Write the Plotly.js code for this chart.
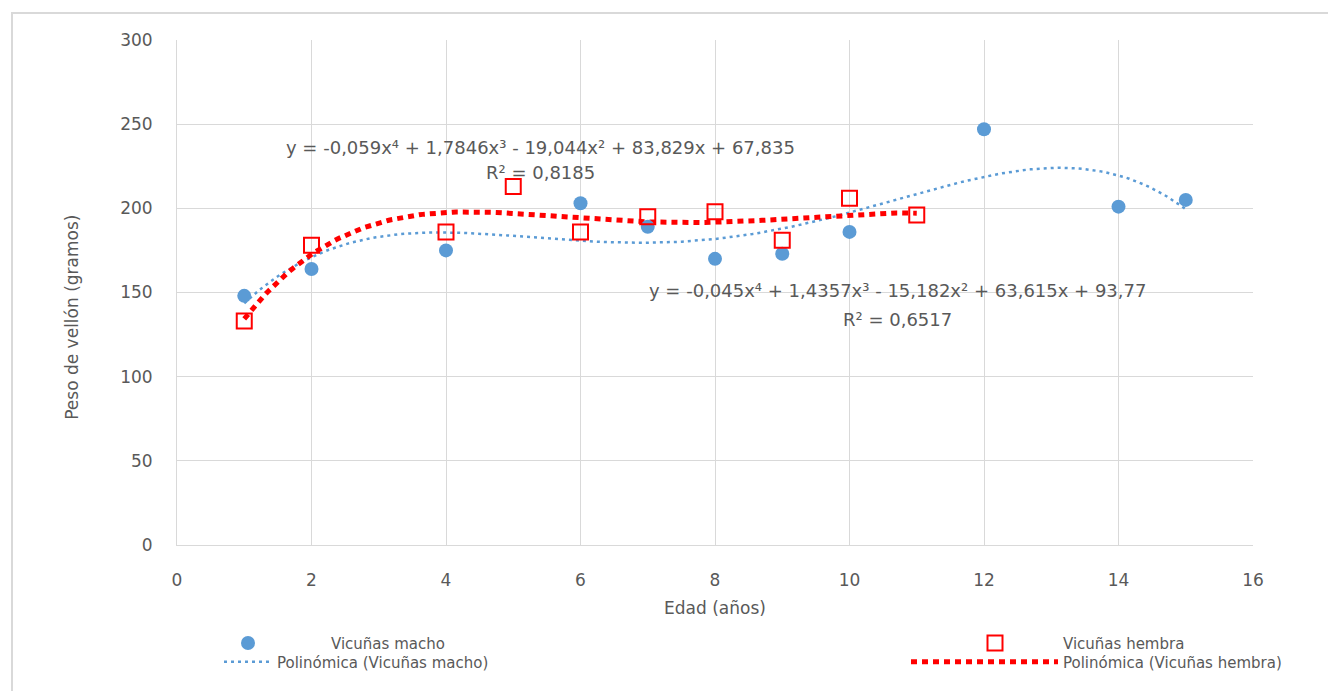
<!DOCTYPE html>
<html>
<head>
<meta charset="utf-8">
<script src="https://cdn.plot.ly/plotly-3.0.1.min.js"></script>
<style>
html,body{margin:0;padding:0;background:#fff;}
#frame{position:absolute;left:11px;top:12px;width:1340px;height:700px;border-left:2px solid #d9d9d9;border-top:2px solid #d9d9d9;pointer-events:none;z-index:5;}
#chart{position:absolute;left:0;top:0;width:1328px;height:691px;}
</style>
</head>
<body>
<div id="chart"></div>
<div id="frame"></div>
<script>
// Data
const machoAge = [1, 2, 4, 6, 7, 8, 9, 10, 12, 14, 15];
const machoWeight = [148, 164, 175, 203, 189, 170, 173, 186, 247, 201, 205];
const hembraAge = [1, 2, 4, 5, 6, 7, 8, 9, 10, 11];
const hembraWeight = [133, 178, 186, 213, 186, 195, 198, 181, 206, 196];

// Trendline coefficients as printed on the chart (x^4, x^3, x^2, x, 1)
const machoCoef = [-0.045, 1.4357, -15.182, 63.615, 93.77];
const hembraCoef = [-0.059, 1.7846, -19.044, 83.829, 67.835];
const machoEq = 'y = -0,045x⁴ + 1,4357x³ - 15,182x² + 63,615x + 93,77';
const machoR2 = 'R² = 0,6517';
const hembraEq = 'y = -0,059x⁴ + 1,7846x³ - 19,044x² + 83,829x + 67,835';
const hembraR2 = 'R² = 0,8185';

const xTicks = [0, 2, 4, 6, 8, 10, 12, 14, 16];
const yTicks = [0, 50, 100, 150, 200, 250, 300];

function trend(coef, x0, x1, n) {
  const xs = [], ys = [];
  for (let i = 0; i <= n; i++) {
    const x = x0 + (x1 - x0) * i / n;
    let y = 0;
    for (let k = 0; k < coef.length; k++) y = y * x + coef[k];
    xs.push(x); ys.push(y);
  }
  return {xs, ys};
}
const tm = trend(machoCoef, machoAge[0], machoAge[machoAge.length - 1], 200);
const th = trend(hembraCoef, hembraAge[0], hembraAge[hembraAge.length - 1], 200);

const blue = '#5b9bd5', red = '#ff0000', gray = '#595959';
const FONT = 'DejaVu Sans, sans-serif';

const traces = [
  {x: tm.xs, y: tm.ys, type: 'scatter', mode: 'lines', name: 'Polinómica (Vicuñas macho)',
   line: {color: blue, width: 2.5, dash: '3px,4px'}, legend: 'legend3', hoverinfo: 'skip'},
  {x: th.xs, y: th.ys, type: 'scatter', mode: 'lines', name: 'Polinómica (Vicuñas hembra)',
   line: {color: red, width: 5, dash: '6px,5px'}, legend: 'legend4', hoverinfo: 'skip'},
  {x: machoAge, y: machoWeight, type: 'scatter', mode: 'markers', name: 'Vicuñas macho',
   marker: {color: blue, size: 14, symbol: 'circle'}, legend: 'legend'},
  {x: hembraAge, y: hembraWeight, type: 'scatter', mode: 'markers', name: 'Vicuñas hembra',
   marker: {color: red, size: 15, symbol: 'square-open', line: {color: red, width: 2}}, legend: 'legend2'}
];

const W = 1076, H = 509, L = 177, T = 40;
const px = v => (v - L) / W;
const py = v => (T + H - v) / H;
const legBase = {orientation: 'h', yanchor: 'middle', xanchor: 'left', bgcolor: 'rgba(0,0,0,0)',
  font: {family: FONT, size: 15, color: gray}, borderwidth: 0, tracegroupgap: 0};

const layout = {
  width: 1328, height: 691,
  margin: {l: 177, r: 75, t: 40, b: 142},
  paper_bgcolor: '#fff', plot_bgcolor: '#fff',
  font: {family: FONT, size: 17, color: gray},
  xaxis: {range: [0, 16], tickvals: xTicks, ticktext: xTicks.map(String), showgrid: true,
    gridcolor: '#d9d9d9', gridwidth: 1, zeroline: false, showline: true, linecolor: '#d9d9d9', linewidth: 1,
    ticks: '', ticklabelstandoff: 20, tickfont: {family: FONT, size: 17, color: gray},
    title: {text: 'Edad (años)', font: {family: FONT, size: 17, color: gray}, standoff: 12}},
  yaxis: {range: [0, 300], tickvals: yTicks, ticktext: yTicks.map(String), showgrid: true,
    gridcolor: '#d9d9d9', gridwidth: 1, zeroline: false, showline: true, linecolor: '#d9d9d9', linewidth: 1,
    ticks: '', ticklabelstandoff: 20, tickfont: {family: FONT, size: 17, color: gray}},
  showlegend: true,
  legend: Object.assign({}, legBase, {x: px(165), y: py(648), itemwidth: 156}),
  legend2: Object.assign({}, legBase, {x: px(927), y: py(648), itemwidth: 126}),
  legend3: Object.assign({}, legBase, {x: px(219), y: py(667), itemwidth: 48}),
  legend4: Object.assign({}, legBase, {x: px(906), y: py(667), itemwidth: 147}),
  annotations: [
    {x: px(60), y: py(320), xref: 'paper', yref: 'paper', text: 'Peso de vellón (gramos)', textangle: -90,
     showarrow: false, font: {family: FONT, size: 17, color: gray}},
    {x: 5.4, y: 236, xref: 'x', yref: 'y', text: hembraEq, showarrow: false, font: {family: FONT, size: 18, color: gray}},
    {x: 5.4, y: 221.5, xref: 'x', yref: 'y', text: hembraR2, showarrow: false, font: {family: FONT, size: 18, color: gray}},
    {x: 10.72, y: 151, xref: 'x', yref: 'y', text: machoEq, showarrow: false, font: {family: FONT, size: 18, color: gray}},
    {x: 10.72, y: 134, xref: 'x', yref: 'y', text: machoR2, showarrow: false, font: {family: FONT, size: 18, color: gray}}
  ]
};

Plotly.newPlot('chart', traces, layout, {displayModeBar: false, staticPlot: true});
</script>
</body>
</html>
